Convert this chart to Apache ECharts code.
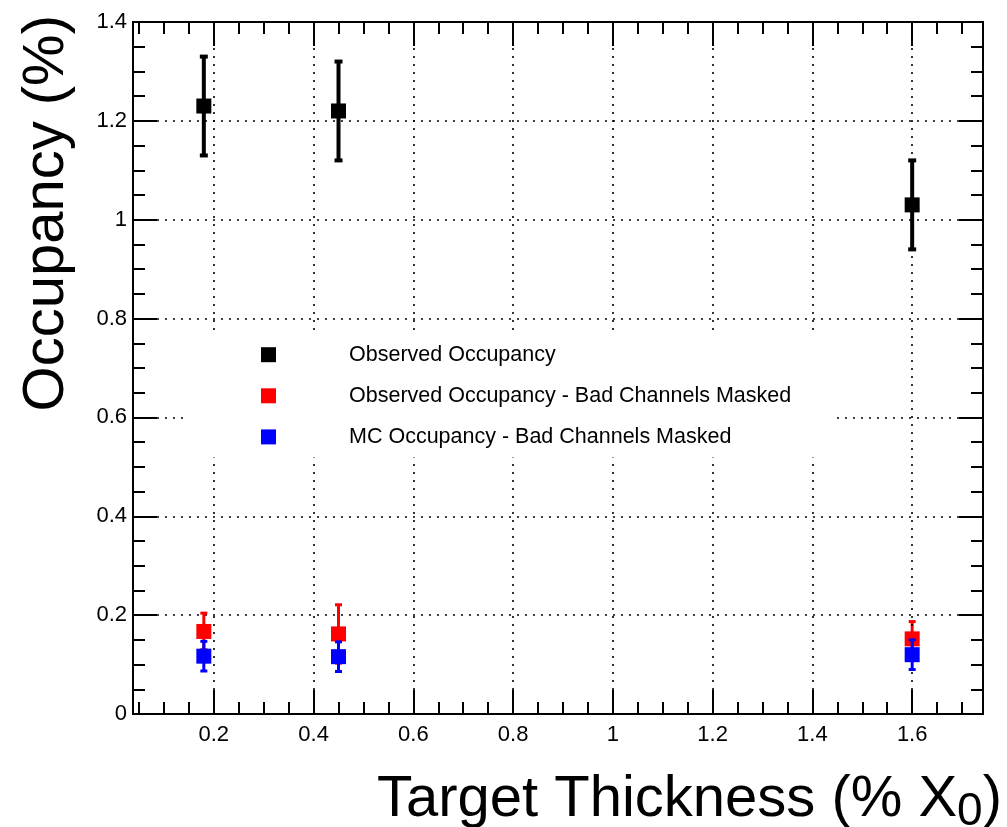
<!DOCTYPE html>
<html><head><meta charset="utf-8">
<script src="https://cdn.jsdelivr.net/npm/echarts@6/dist/echarts.min.js"></script>
<style>html,body{margin:0;padding:0;background:#fff}#c{width:1007px;height:827px}</style>
</head><body><div id="c"></div>
<script>
// ---- data ----
const thickness = [0.18, 0.45, 1.6];
const observed = [1.23, 1.22, 1.03];
const observedErr = [0.10, 0.10, 0.09];
const observedMasked = [0.167, 0.162, 0.152];
const observedMaskedErr = [0.037, 0.059, 0.035];
const mcMasked = [0.117, 0.116, 0.120];
const mcMaskedErr = [0.030, 0.030, 0.030];
const seriesNames = ['Observed Occupancy', 'Observed Occupancy - Bad Channels Masked', 'MC Occupancy - Bad Channels Masked'];
const seriesColors = ['#000000', '#ff0000', '#0000ff'];
const xMajorTicks = [0.2, 0.4, 0.6, 0.8, 1, 1.2, 1.4, 1.6];
const xMinorTicks = [0.05, 0.1, 0.15, 0.25, 0.3, 0.35, 0.45, 0.5, 0.55, 0.65, 0.7, 0.75, 0.85, 0.9, 0.95, 1.05, 1.1, 1.15, 1.25, 1.3, 1.35, 1.45, 1.5, 1.55, 1.65, 1.7];
const xRange = [0.038, 1.742];
const yRange = [0, 1.4];
const yStep = 0.2;
const yTitle = 'Occupancy (%)';
const xTitle = 'Target Thickness (% X{sub|0})';

const FONT = 'Liberation Sans, Arial, Helvetica, sans-serif';
const chart = echarts.init(document.getElementById('c'), null, {renderer: 'canvas'});

function errorSeries(idx, ys, errs, lw, capW, capH, z) {
  return {
    type: 'custom', name: seriesNames[idx] + ' error',
    xAxisIndex: 0, yAxisIndex: 0, z: z, silent: true, animation: false,
    data: thickness.map((x, i) => [x, ys[i] - errs[i], ys[i] + errs[i]]),
    encode: {x: 0, y: [1, 2]},
    renderItem(params, api) {
      const lo = api.coord([api.value(0), api.value(1)]);
      const hi = api.coord([api.value(0), api.value(2)]);
      const c = seriesColors[idx];
      return {type: 'group', children: [
        {type: 'line', shape: {x1: lo[0], y1: lo[1], x2: hi[0], y2: hi[1]}, style: {stroke: c, lineWidth: lw}},
        {type: 'rect', shape: {x: lo[0] - capW / 2, y: lo[1] - capH / 2, width: capW, height: capH}, style: {fill: c}},
        {type: 'rect', shape: {x: hi[0] - capW / 2, y: hi[1] - capH / 2, width: capW, height: capH}, style: {fill: c}}
      ]};
    }
  };
}
function pointSeries(idx, ys, z) {
  return {
    type: 'scatter', name: seriesNames[idx], xAxisIndex: 0, yAxisIndex: 0, z: z,
    data: thickness.map((x, i) => [x, ys[i]]),
    symbol: 'rect', symbolSize: 15, animation: false, silent: true,
    itemStyle: {color: seriesColors[idx], opacity: 1}
  };
}
const tickLine = {color: '#000', width: 2};
function xAxisDef(pos, ticks, len, labels) {
  return {
    type: 'value', position: pos, min: xRange[0], max: xRange[1], gridIndex: 0,
    axisLine: {show: true, onZero: false, lineStyle: {color: '#000', width: 2}},
    axisTick: {show: true, inside: true, length: len, customValues: ticks, lineStyle: tickLine},
    axisLabel: labels ? {show: true, customValues: ticks, fontSize: 22, fontFamily: FONT, color: '#000', margin: 10} : {show: false},
    splitLine: {show: false}
  };
}
function yAxisDef(pos, labels) {
  return {
    type: 'value', position: pos, min: yRange[0], max: yRange[1], interval: yStep, gridIndex: 0,
    axisLine: {show: true, onZero: false, lineStyle: {color: '#000', width: 2}},
    axisTick: {show: true, inside: true, length: 24, lineStyle: tickLine},
    minorTick: {show: true, splitNumber: 4, length: 12, lineStyle: tickLine},
    axisLabel: labels ? {show: true, fontSize: 22, fontFamily: FONT, color: '#000', margin: 6} : {show: false},
    splitLine: labels ? {show: true, lineStyle: {color: '#000', width: 1.6, type: [2, 6]}} : {show: false}
  };
}

const option = {
  backgroundColor: '#fff',
  animation: false,
  grid: {left: 133, right: 24, top: 22, bottom: 113, show: true, borderColor: '#000', borderWidth: 2, backgroundColor: 'transparent'},
  xAxis: [
    xAxisDef('bottom', xMajorTicks, 24, true),
    xAxisDef('bottom', xMinorTicks, 12, false),
    xAxisDef('top', xMajorTicks, 24, false),
    xAxisDef('top', xMinorTicks, 12, false)
  ],
  yAxis: [yAxisDef('left', true), yAxisDef('right', false)],
  legend: {
    data: seriesNames, orient: 'vertical', left: 186, top: 333, z: 10,
    backgroundColor: '#fff', padding: [10.7, 44, 9.6, 75],
    itemWidth: 15, itemHeight: 15, itemGap: 19.1, icon: 'rect', selectedMode: false,
    textStyle: {fontFamily: FONT, fontSize: 21.5, color: '#000', lineHeight: 15, padding: [0, 0, 0, 68]}
  },
  graphic: [
    {type: 'text', x: 47, y: 15, rotation: Math.PI / 2, silent: true,
     style: {text: yTitle, fontFamily: FONT, fontSize: 58, fill: '#000', align: 'right', verticalAlign: 'middle'}},
    {type: 'text', x: 1002, y: 800, silent: true,
     style: {text: xTitle, fontFamily: FONT, fontSize: 58, lineHeight: 70, fill: '#000', align: 'right', verticalAlign: 'middle',
             rich: {sub: {fontFamily: FONT, fontSize: 46, lineHeight: 46, verticalAlign: 'bottom', fill: '#000'}}}}
  ],
  series: [
    {type: 'line', data: [], xAxisIndex: 0, yAxisIndex: 0, z: 1, silent: true,
     markLine: {silent: true, symbol: ['none', 'none'], label: {show: false}, animation: false,
       lineStyle: {color: '#000', width: 1.6, type: [2, 6]},
       data: xMajorTicks.map(v => ({xAxis: v}))}},
    errorSeries(0, observed, observedErr, 4, 8, 4, 2),
    pointSeries(0, observed, 3),
    errorSeries(1, observedMasked, observedMaskedErr, 3, 7, 3, 4),
    pointSeries(1, observedMasked, 5),
    errorSeries(2, mcMasked, mcMaskedErr, 3, 7, 3, 6),
    pointSeries(2, mcMasked, 7)
  ]
};
chart.setOption(option);
</script>
</body></html>
